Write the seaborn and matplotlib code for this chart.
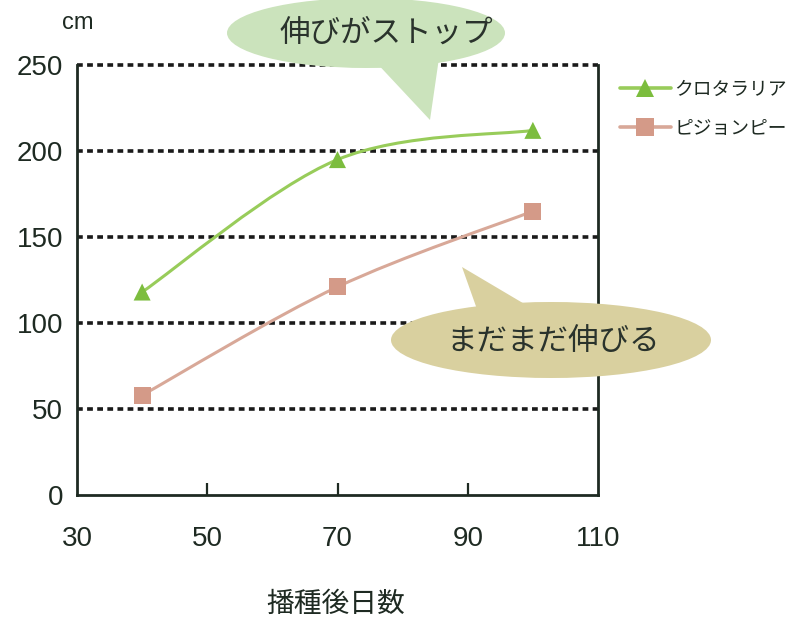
import numpy as np
import pandas as pd
import matplotlib
matplotlib.use("Agg")
import matplotlib.pyplot as plt
from matplotlib.path import Path
from matplotlib.patches import PathPatch, Ellipse, Polygon
from matplotlib.lines import Line2D
from matplotlib.transforms import Affine2D
import seaborn as sns

# Days after sowing and plant height (cm)
days = [40, 70, 100]
crotalaria = [118, 195, 212]
pigeonpea = [58, 121, 165]
series_names = ["クロタラリア", "ピジョンピー"]
x_ticks = [30, 50, 70, 90, 110]
y_ticks = [0, 50, 100, 150, 200, 250]

sns.set_theme(style="white")
plt.rcParams["font.family"] = ["Liberation Sans", "Noto Sans CJK JP", "DejaVu Sans"]
JP = ["Noto Sans CJK JP", "DejaVu Sans"]

W, H = 797, 619
fig = plt.figure(figsize=(W / 100, H / 100), dpi=100)
ax = fig.add_axes([77 / W, 1 - 495 / H, (598 - 77) / W, (495 - 65) / H])

df = pd.DataFrame({
    "day": days * 2,
    "height": crotalaria + pigeonpea,
    "series": [series_names[0]] * 3 + [series_names[1]] * 3,
})

line_colors = {series_names[0]: "#98cc5a", series_names[1]: "#d8a898"}
marker_colors = {series_names[0]: "#7cbd3e", series_names[1]: "#d49a88"}
markers = {series_names[0]: "^", series_names[1]: "s"}


def smooth_path(xs, ys):
    # Catmull-Rom style cubic Bezier through the points (Excel-like smoothing)
    pts = np.column_stack([xs, ys]).astype(float)
    ext = np.vstack([pts[0], pts, pts[-1]])
    verts = [tuple(pts[0])]
    codes = [Path.MOVETO]
    for i in range(1, len(ext) - 2):
        p0, p1, p2, p3 = ext[i - 1], ext[i], ext[i + 1], ext[i + 2]
        c1 = p1 + (p2 - p0) / 6
        c2 = p2 - (p3 - p1) / 6
        verts += [tuple(c1), tuple(c2), tuple(p2)]
        codes += [Path.CURVE4] * 3
    return Path(verts, codes)


for name, vals in zip(series_names, [crotalaria, pigeonpea]):
    ax.add_patch(PathPatch(smooth_path(days, vals), fill=False,
                           edgecolor=line_colors[name], lw=2.2, zorder=3))

sns.scatterplot(data=df, x="day", y="height", hue="series", style="series",
                palette=marker_colors, markers=markers, s=150, linewidth=0,
                legend=False, ax=ax, zorder=4)

ax.set_xlim(30, 110)
ax.set_ylim(0, 250)
ax.set_xticks(x_ticks)
ax.set_yticks(y_ticks)
ax.set_xlabel("")
ax.set_ylabel("")

for y in y_ticks[1:]:
    ax.axhline(y, color="#1a1a1a", lw=2.6, ls=(0, (1.6, 1.2)), zorder=1,
               clip_on=False)

for side in ["left", "bottom", "right"]:
    ax.spines[side].set_visible(True)
    ax.spines[side].set_color("#1e2a22")
    ax.spines[side].set_linewidth(2.0)
ax.spines["top"].set_visible(False)

ax.tick_params(axis="x", direction="in", length=9, width=1.6, color="#1e2a22",
               pad=22, labelsize=20, labelcolor="#1e2a22")
ax.tick_params(axis="y", length=0, pad=10, labelsize=20, labelcolor="#1e2a22")
ax.xaxis.set_ticks_position("bottom")
# No inner tick marks at the two ends of the x axis
for t, x in zip(ax.xaxis.get_major_ticks(), x_ticks):
    if x in (30, 110):
        t.tick1line.set_visible(False)

fig.text(78 / W, 1 - 23 / H, "cm", fontsize=17, color="#1e2a22",
         ha="center", va="center")
fig.text(336 / W, 1 - 604 / H, "播種後日数", fontsize=20, color="#1e2a22",
         ha="center", va="center", family=JP)

# Legend
handles = [
    Line2D([], [], color=line_colors[n], lw=2.6, marker=markers[n],
           markerfacecolor=marker_colors[n], markeredgewidth=0, markersize=13)
    for n in series_names
]
leg = fig.legend(handles, series_names, loc="upper left",
                 bbox_to_anchor=(603 / W, 1 - 62 / H), frameon=False,
                 handlelength=2.7, handletextpad=0.2, labelspacing=0.95,
                 prop={"family": JP, "size": 13.5})
for t in leg.get_texts():
    t.set_color("#1e2a22")

# Speech bubbles in pixel coordinates (origin top-left)
T = Affine2D().scale(1 / W, -1 / H).translate(0, 1) + fig.transFigure

green_fill = "#cbe3bc"
fig.add_artist(Polygon([(372, 58), (430, 120), (439, 58)], closed=True,
                       transform=T, facecolor=green_fill, edgecolor="none", zorder=5))
fig.add_artist(Ellipse((366, 33), 278, 70, transform=T, facecolor=green_fill,
                       edgecolor="none", zorder=5))
fig.text(386 / W, 1 - 33 / H, "伸びがストップ", fontsize=22, color="#2a332c",
         ha="center", va="center", zorder=6, family=JP)

tan_fill = "#d9d09f"
fig.add_artist(Polygon([(462, 267), (478, 312), (538, 312)], closed=True,
                       transform=T, facecolor=tan_fill, edgecolor="none", zorder=5))
fig.add_artist(Ellipse((551, 340), 320, 76, transform=T, facecolor=tan_fill,
                       edgecolor="none", zorder=5))
fig.text(553 / W, 1 - 341 / H, "まだまだ伸びる", fontsize=22, color="#2a332c",
         ha="center", va="center", zorder=6, family=JP)

fig.savefig("out.png", dpi=100, facecolor="white")
